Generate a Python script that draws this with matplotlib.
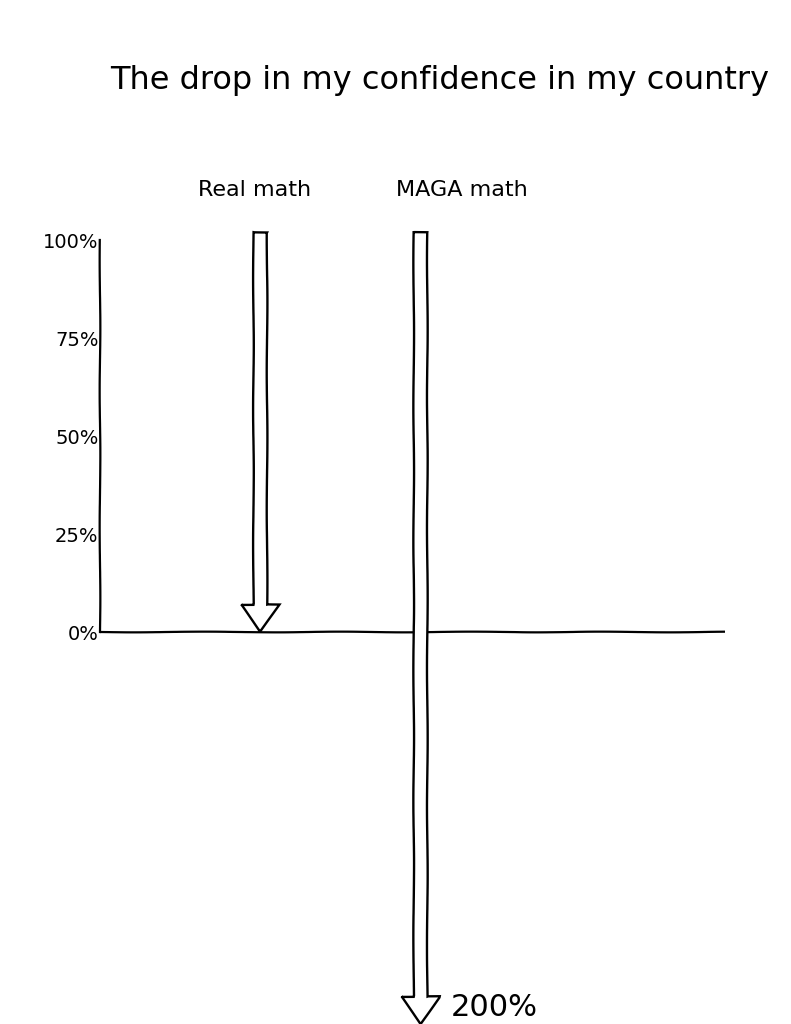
import matplotlib
matplotlib.use("Agg")
import matplotlib.pyplot as plt

# ---- data ----
title = "The drop in my confidence in my country"
labels = ["Real math", "MAGA math"]
start_pct = [100, 100]
drop_pct = [100, 200]
ytick_vals = [0, 25, 50, 75, 100]
ytick_labels = ["0%", "25%", "50%", "75%", "100%"]
end_label = "200%"

plt.xkcd(scale=0.35, length=150, randomness=2)
plt.rcParams['font.family'] = ['DejaVu Sans']
plt.rcParams['path.effects'] = []

fig = plt.figure(figsize=(7.91, 10.24), dpi=100)
fig.patch.set_facecolor('white')
ax = fig.add_axes([100 / 791, 0.0, 625 / 791, (1024 - 240) / 1024])
ax.set_facecolor('none')

xpos = [0, 1]
ax.set_xlim(-1.0, 2.9)
ax.set_ylim(-100, 100)

# axes styling
for s in ['top', 'right', 'bottom']:
    ax.spines[s].set_visible(False)
ax.spines['left'].set_bounds(0, 100)
ax.spines['left'].set_linewidth(1.6)
ax.axhline(0, color='black', lw=1.6)
ax.set_xticks([])
ax.set_yticks(ytick_vals)
ax.set_yticklabels(ytick_labels)
ax.tick_params(axis='y', length=0, pad=1, labelsize=14)

# arrows
label_offsets = [(-4, 36), (30, 36)]
for x, s, d, lab, off in zip(xpos, start_pct, drop_pct, labels, label_offsets):
    ax.arrow(x, s + 2, 0, -(d + 2), width=0.085, head_width=0.24,
             head_length=7, length_includes_head=True, fc='white',
             ec='black', lw=1.7, clip_on=False, zorder=3)
    ax.annotate(lab, (x, s), xytext=off, textcoords='offset points',
                ha='center', va='center', fontsize=16)

# end label for the larger drop
ax.annotate(end_label, (xpos[1], start_pct[1] - drop_pct[1]), xytext=(22, 12),
            textcoords='offset points', ha='left', va='center', fontsize=22,
            annotation_clip=False)

fig.text(440 / 791, 1 - 80 / 1024, title, ha='center', va='center', fontsize=23)

fig.savefig("out.png", dpi=100, facecolor='white')
